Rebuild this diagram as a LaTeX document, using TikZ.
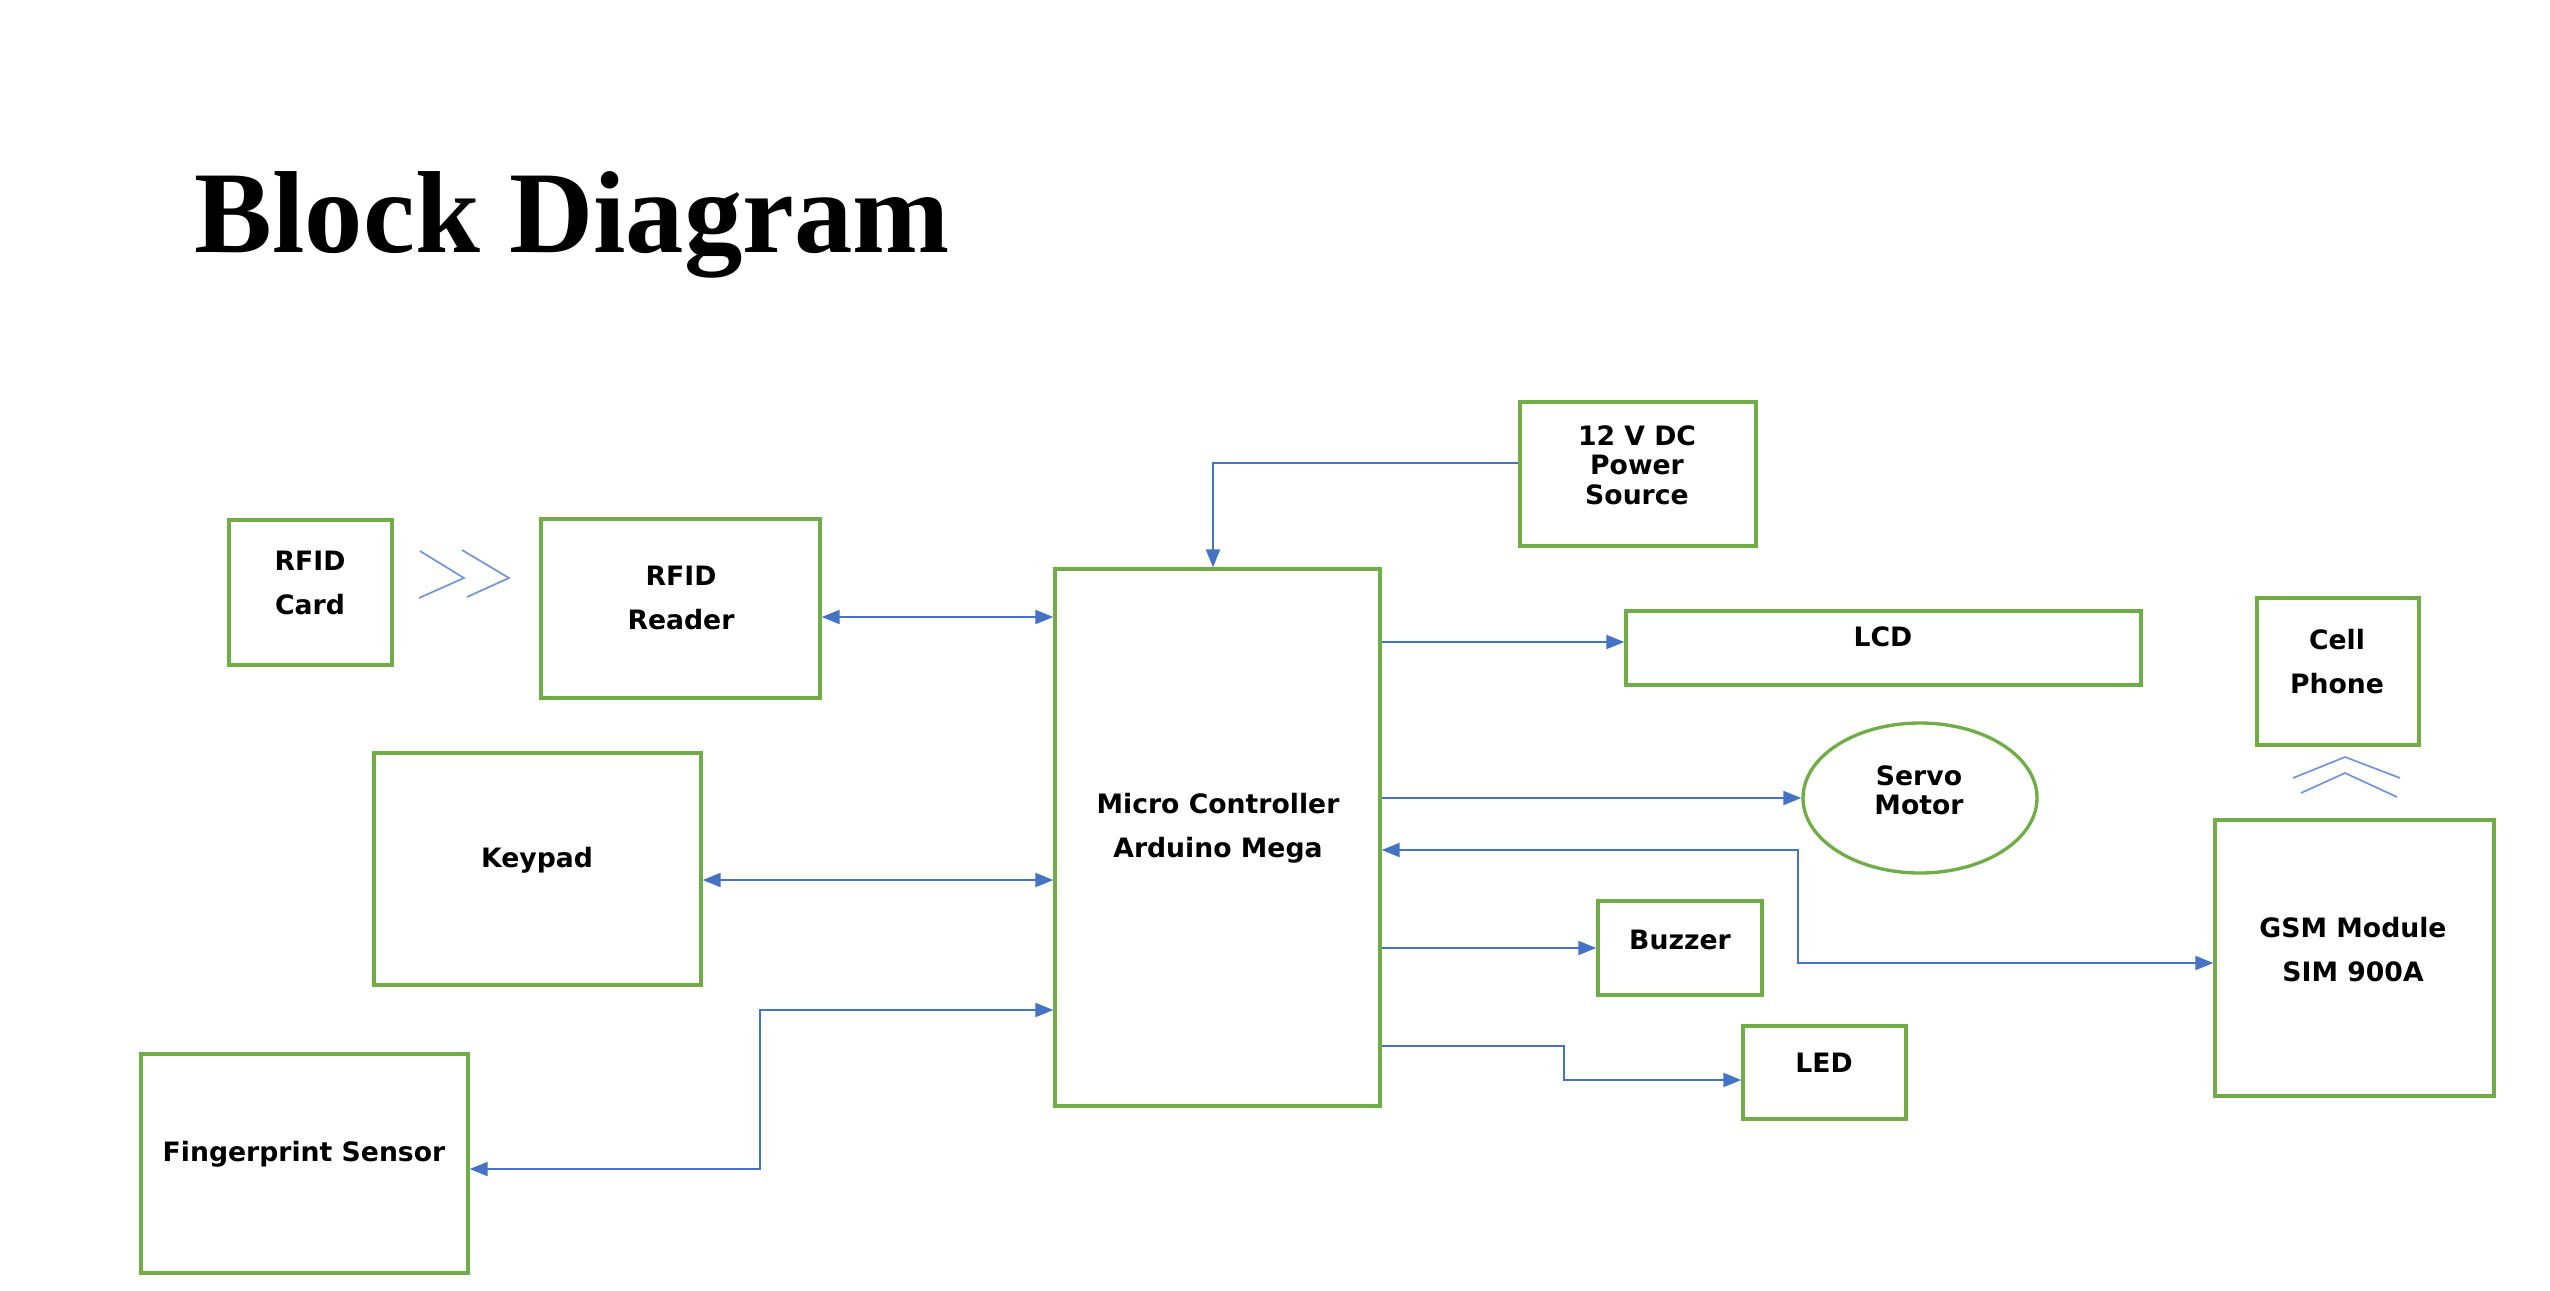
\documentclass[tikz,border=0pt]{standalone}
\usepackage{fontspec}
\newfontfamily\boxfont{DejaVu Sans}
\newfontfamily\titlefont{Liberation Serif}
\usetikzlibrary{arrows.meta,shapes.geometric}
\definecolor{boxgreen}{HTML}{70AD47}
\definecolor{linkblue}{HTML}{4472C4}
\definecolor{chevblue}{HTML}{6F93D6}
\begin{document}
\begin{tikzpicture}[x=0.3pt,y=-0.3pt,
  blk/.style={draw=boxgreen,line width=1pt,inner sep=0pt,minimum width=#1},
  txt/.style={inner sep=0pt,align=center,font=\boxfont\bfseries\fontsize{8}{13.2}\selectfont},
  tighttxt/.style={inner sep=0pt,align=center,font=\boxfont\bfseries\fontsize{8}{8.8}\selectfont},
  arr/.style={draw=linkblue,line width=0.6pt,-{Triangle[length=5.4pt,width=4.2pt]}},
  darr/.style={draw=linkblue,line width=0.6pt,{Triangle[length=5.4pt,width=4.2pt]}-{Triangle[length=5.4pt,width=4.2pt]}},
  chev/.style={draw=chevblue,line width=0.5pt}
]
\useasboundingbox (0,0) rectangle (2550,1290);

% title
\node[anchor=base west,inner sep=0pt,font=\titlefont\bfseries\fontsize{35}{40}\selectfont] (title) at (194,252) {Block Diagram};

% boxes
\node[blk=48.9pt,minimum height=43.5pt] (card) at (310.5,592.5) {};
\node[blk=83.7pt,minimum height=53.7pt] (rdr) at (680.5,608.5) {};
\node[blk=98.1pt,minimum height=69.6pt] (key) at (537.5,869) {};
\node[blk=98.1pt,minimum height=65.7pt] (fp) at (304.5,1163.5) {};
\node[blk=97.5pt,minimum height=161.1pt] (mc) at (1217.5,837.5) {};
\node[blk=70.8pt,minimum height=43.2pt] (pwr) at (1638,474) {};
\node[blk=154.5pt,minimum height=22.2pt] (lcd) at (1883.5,648) {};
\node[blk=70.2pt,minimum height=45pt,ellipse] (servo) at (1920,798) {};
\node[blk=49.2pt,minimum height=28.2pt] (bz) at (1680,948) {};
\node[blk=48.9pt,minimum height=27.9pt] (led) at (1824.5,1072.5) {};
\node[blk=48.6pt,minimum height=44.1pt] (cell) at (2338,671.5) {};
\node[blk=83.7pt,minimum height=82.8pt] (gsm) at (2354.5,958) {};

% texts
\node[txt] (cardt) at (310,583) {RFID\\Card};
\node[txt] (rdrt) at (681,598) {RFID\\Reader};
\node[txt] (keyt) at (537,860) {Keypad};
\node[txt] (fpt) at (304,1154) {Fingerprint Sensor};
\node[txt] (mct) at (1218,828) {Micro Controller\\Arduino Mega};
\node[tighttxt] (pwrt) at (1637,465) {12 V DC\\Power\\Source};
\node[txt] (lcdt) at (1883,637) {LCD};
\node[tighttxt] (servot) at (1919,790) {Servo\\Motor};
\node[txt] (bzt) at (1680,940) {Buzzer};
\node[txt] (ledt) at (1824,1063) {LED};
\node[txt] (cellt) at (2337,662) {Cell\\Phone};
\node[txt] (gsmt) at (2353,950) {GSM Module\\SIM 900A};

% chevrons card -> reader
\draw[chev] (420,551) -- (464,578) -- (419,598);
\draw[chev] (462,550) -- (509,578) -- (467,597);
% chevrons gsm -> cell
\draw[chev] (2293,778) -- (2345,757) -- (2400,778);
\draw[chev] (2301,793) -- (2345,773) -- (2397,797);

% connectors
\draw[arr] (pwr.west |- 0,463) -| (mc.north -| 1213,0);
\draw[darr] (rdr.east |- 0,617) -- (mc.west |- 0,617);
\draw[darr] (key.east |- 0,880) -- (mc.west |- 0,880);
\draw[darr] (mc.west |- 0,1010) -| (760,1090) |- (fp.east |- 0,1169);
\draw[arr] (mc.east |- 0,642) -- (lcd.west |- 0,642);
\draw[arr] (mc.east |- servo.west) -- (servo.west);
\draw[darr] (gsm.west |- 0,963) -| (1798,900) |- (mc.east |- 0,850);
\draw[arr] (mc.east |- bz.west) -- (bz.west);
\draw[arr] (mc.east |- 0,1046) -| (1564,1060) |- (led.west |- 0,1080);
\end{tikzpicture}
\end{document}
